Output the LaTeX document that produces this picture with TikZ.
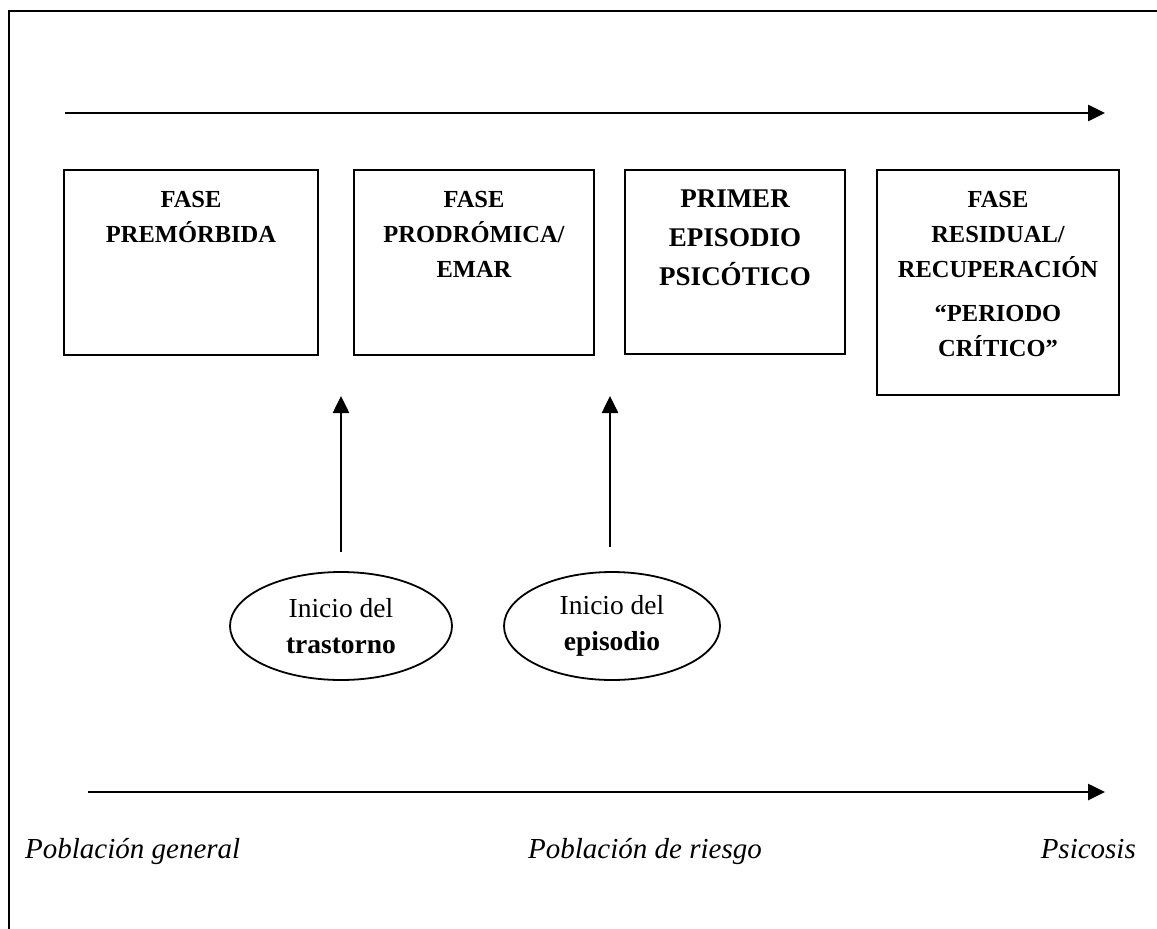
\documentclass[tikz,border=0pt]{standalone}
\usepackage{fontspec}
\setmainfont{Liberation Serif}
\usetikzlibrary{arrows.meta,shapes.geometric}
\begin{document}
\begin{tikzpicture}[x=1pt,y=-1pt,
  frame/.style={line width=2.4pt},
  arr/.style={line width=2.6pt,-{Triangle[length=17pt,width=16pt]}},
  phase/.style={draw,line width=2.2pt,inner sep=0pt},
  ptext/.style={align=center,font=\fontsize{24.5}{35}\selectfont\bfseries,inner sep=0pt,anchor=north},
  onset/.style={draw,ellipse,line width=1.8pt,inner sep=0pt,align=center,minimum height=108pt,font=\fontsize{27.5}{36}\selectfont},
  pop/.style={font=\fontsize{29}{35}\selectfont\itshape,inner sep=0pt}]
\useasboundingbox (0,0) rectangle (1157,929);
% frame
\draw[frame] (9,929) -- (9,11) -- (1157,11);
% top arrow
\coordinate (ta) at (65,113);
\coordinate (tb) at (1105,113);
\draw[arr] (ta) -- (tb);
% phase boxes
\node[phase,minimum width=254pt,minimum height=185pt] (b1) at (191,262.5) {};
\node[phase,minimum width=240pt,minimum height=185pt] (b2) at (474,262.5) {};
\node[phase,minimum width=220pt,minimum height=184pt] (b3) at (735,262) {};
\node[phase,minimum width=242pt,minimum height=225pt] (b4) at (998,282.5) {};
\node[ptext] (t1) at ([yshift=-22pt]b1.north) {FASE\\PREMÓRBIDA};
\node[ptext] (t2) at ([yshift=-22pt]b2.north) {FASE\\PRODRÓMICA/\\EMAR};
\node[ptext,font=\fontsize{27}{39}\selectfont\bfseries] (t3) at ([yshift=-21pt]b3.north) {PRIMER\\EPISODIO\\PSICÓTICO};
\node[ptext] (t4) at ([yshift=-22pt]b4.north) {FASE\\RESIDUAL/\\RECUPERACIÓN\\[9pt]“PERIODO\\CRÍTICO”};
% onset ellipses
\node[onset,minimum width=222pt] (e1) at (341,626) {Inicio del\\\textbf{trastorno}};
\node[onset,minimum width=216pt] (e2) at (612,626) {Inicio del\\\textbf{episodio}};
\coordinate (u1) at (341,396);
\coordinate (u2) at (610,396);
\draw[arr,shorten <=19pt] (e1.north) -- (u1);
\draw[arr,shorten <=24pt] (e2.north -| u2) -- (u2);
% bottom arrow
\coordinate (ba) at (88,792);
\coordinate (bb) at (1105,792);
\draw[arr] (ba) -- (bb);
% population labels
\node[pop,anchor=base west] (p1) at (25,858) {Población general};
\node[pop,anchor=base west] (p2) at (528,858) {Población de riesgo};
\node[pop,anchor=base east] (p3) at (1136,858) {Psicosis};
\end{tikzpicture}
\end{document}
